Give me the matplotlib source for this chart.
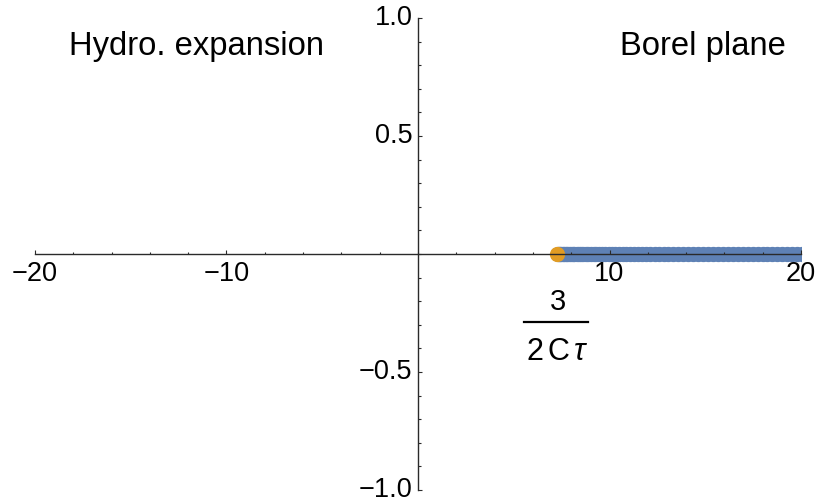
import matplotlib
matplotlib.use('Agg')
import matplotlib.pyplot as plt
import numpy as np
from matplotlib.ticker import MultipleLocator, FixedLocator

plt.rcParams['font.family'] = ['Liberation Sans', 'DejaVu Sans']
plt.rcParams['mathtext.fontset'] = 'custom'
plt.rcParams['mathtext.rm'] = 'Liberation Sans'
plt.rcParams['mathtext.it'] = 'Liberation Sans:italic'

# branch point 3/(2 C tau) on the real axis
branch_x = [7.26]
branch_y = [0.0]

# poles of the Pade approximant along the real axis
pole_x = [7.30, 7.36, 7.42, 7.49, 7.56, 7.63, 7.71, 7.79, 7.88, 7.97, 8.07, 8.17,
          8.28, 8.39, 8.51, 8.63, 8.76, 8.89, 9.03, 9.17, 9.32, 9.47, 9.63, 9.79,
          9.96, 10.13, 10.31, 10.49, 10.68, 10.87, 11.07, 11.27, 11.48, 11.69,
          11.91, 12.13, 12.36, 12.59, 12.83, 13.07, 13.32, 13.57, 13.83, 14.09,
          14.35, 14.61, 14.87, 15.13, 15.39, 15.65, 15.91, 16.17, 16.43, 16.69,
          16.95, 17.21, 17.47, 17.73, 17.99, 18.25, 18.51, 18.77, 19.03, 19.29,
          19.55, 19.81, 20.07, 20.33]
pole_y = [0.0] * len(pole_x)

xticks = [-20, -10, 10, 20]
yticks = [-1.0, -0.5, 0.5, 1.0]

blue = (0.368417, 0.506779, 0.709798)
orange = (0.880722, 0.611041, 0.142051)

fig = plt.figure(figsize=(8.17, 5.04), dpi=100)
ax = fig.add_axes([35/817, 1 - 490/504, (801 - 35)/817, (490 - 18)/504])

ax.plot(pole_x, pole_y, 'o', color=blue, ms=11, mew=0, zorder=1)
ax.plot(branch_x, branch_y, 'o', color=orange, ms=11, mew=0, zorder=1.5)

ax.set_xlim(-20, 20)
ax.set_ylim(-1, 1)

for s in ['top', 'right']:
    ax.spines[s].set_visible(False)
ax.spines['left'].set_position('zero')
ax.spines['bottom'].set_position('zero')
for s in ['left', 'bottom']:
    ax.spines[s].set_color('#2a2a2a')
    ax.spines[s].set_linewidth(1.0)
    ax.spines[s].set_zorder(3)

ax.xaxis.set_major_locator(FixedLocator(xticks))
ax.xaxis.set_minor_locator(MultipleLocator(2))
ax.yaxis.set_major_locator(FixedLocator(yticks))
ax.yaxis.set_minor_locator(MultipleLocator(0.1))
ax.set_xticklabels(['\u221220', '\u221210', '10', '20'])
ax.set_yticklabels(['\u22121.0', '\u22120.5', '0.5', '1.0'])
for lab in ax.get_yticklabels():
    lab.set_va('center')

ax.tick_params(which='both', direction='in', color='#2a2a2a', width=0.8,
               labelsize=19.5, zorder=3)
ax.tick_params(which='major', length=3.2)
ax.tick_params(which='minor', length=1.8)
ax.tick_params(axis='x', which='major', pad=5)
ax.tick_params(axis='y', which='major', pad=4)
ax.patch.set_visible(False)

# 3 / (2 C tau) label under the branch point
bx = branch_x[0]
ax.text(bx + 0.05, -0.236, '3', fontsize=21, ha='center', va='baseline')
ax.plot([bx - 1.72, bx + 1.62], [-0.29, -0.29], color='black', lw=1.6,
        clip_on=False)
ax.text(bx + 0.02, -0.45, r'2$\,$C$\,\tau$', fontsize=22, ha='center',
        va='baseline')

fig.text(69/817, 1 - 55/504, 'Hydro. expansion', fontsize=23.6, va='baseline')
fig.text(786/817, 1 - 55/504, 'Borel plane', fontsize=23.6, va='baseline',
         ha='right')

fig.savefig('out.png', dpi=100)
